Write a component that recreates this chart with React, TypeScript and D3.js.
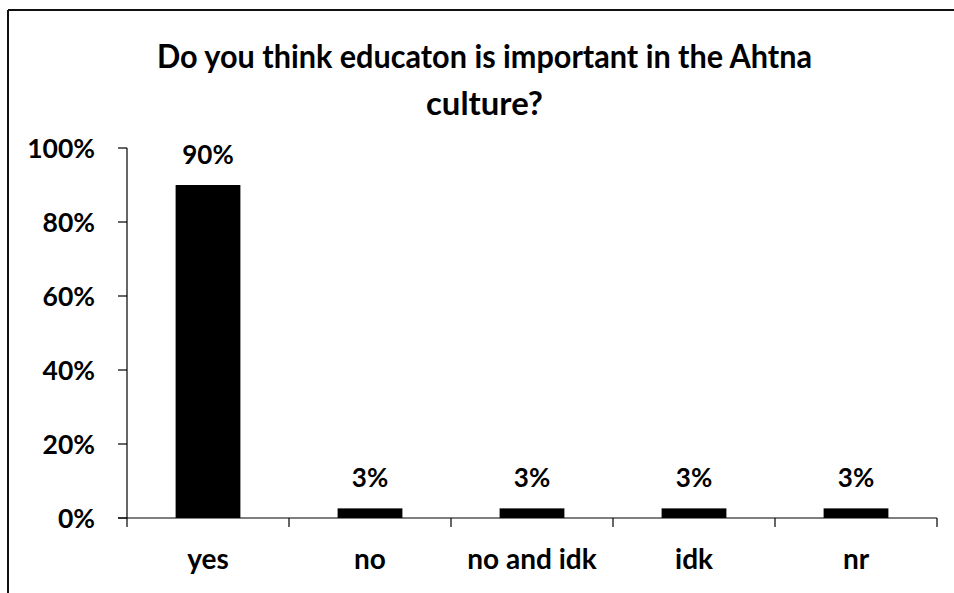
import React from "react";
import * as d3 from "d3";

const categories = ["yes", "no", "no and idk", "idk", "nr"];
const values = [0.9, 0.026, 0.026, 0.026, 0.026];
const yTicks = [0, 0.2, 0.4, 0.6, 0.8, 1.0];
const titleLines = ["Do you think educaton is important in the Ahtna", "culture?"];

const W = 954;
const H = 593;
const FONT = "Lato, 'Open Sans', sans-serif";

export default function App() {
  const y = d3.scaleLinear().domain([0, 1]).range([518, 148]);
  const xAxisBand = d3.scaleBand().domain(categories).range([127, 937]).padding(0);
  const xBar = d3
    .scaleBand()
    .domain(categories)
    .range([127, 937])
    .paddingInner(0.6)
    .paddingOuter(0.3);
  const fmt = d3.format(".0%");
  const boundaries = [...categories.map((c) => xAxisBand(c) as number), 937];

  return (
    <svg
      width={W}
      height={H}
      style={{ position: "absolute", left: 0, top: 0, background: "#fff" }}
      fontFamily={FONT}
    >
      <rect x={0} y={0} width={W} height={H} fill="#fff" />
      {/* chart border */}
      <line x1={8} y1={10} x2={W} y2={10} stroke="#111" strokeWidth={2} />
      <line x1={8} y1={10} x2={8} y2={H} stroke="#111" strokeWidth={2} />

      {/* title */}
      <text
        x={484.5}
        y={68}
        textAnchor="middle"
        fontSize={33}
        fontWeight="bold"
        textLength={655}
        lengthAdjust="spacingAndGlyphs"
      >
        {titleLines[0]}
      </text>
      <text
        x={484.5}
        y={115}
        textAnchor="middle"
        fontSize={33}
        fontWeight="bold"
        textLength={117}
        lengthAdjust="spacingAndGlyphs"
      >
        {titleLines[1]}
      </text>

      {/* y axis */}
      <line x1={127} x2={127} y1={y(1)} y2={y(0)} stroke="#000" strokeWidth={1.2} />
      {yTicks.map((t) => (
        <g key={t}>
          <line x1={118} x2={127} y1={y(t)} y2={y(t)} stroke="#000" strokeWidth={1.2} />
          <text
            x={95}
            y={y(t)}
            dy="0.36em"
            textAnchor="end"
            fontSize={26.5}
            fontWeight="bold"
          >
            {fmt(t)}
          </text>
        </g>
      ))}

      {/* bars */}
      {categories.map((c, i) => (
        <g key={c}>
          <rect
            x={xBar(c)}
            y={y(values[i])}
            width={xBar.bandwidth()}
            height={y(0) - y(values[i])}
            fill="#000"
          />
          <text
            x={(xBar(c) as number) + xBar.bandwidth() / 2}
            y={y(values[i]) - 21}
            textAnchor="middle"
            fontSize={26}
            fontWeight="bold"
          >
            {fmt(values[i])}
          </text>
          <text
            x={(xAxisBand(c) as number) + xAxisBand.bandwidth() / 2}
            y={569}
            textAnchor="middle"
            fontSize={28}
            fontWeight="bold"
          >
            {c}
          </text>
        </g>
      ))}

      {/* x axis */}
      <line x1={118} x2={937} y1={y(0)} y2={y(0)} stroke="#000" strokeWidth={1.2} />
      {boundaries.map((bx, i) => (
        <line key={i} x1={bx} x2={bx} y1={y(0)} y2={y(0) + 9} stroke="#000" strokeWidth={1.2} />
      ))}
    </svg>
  );
}
